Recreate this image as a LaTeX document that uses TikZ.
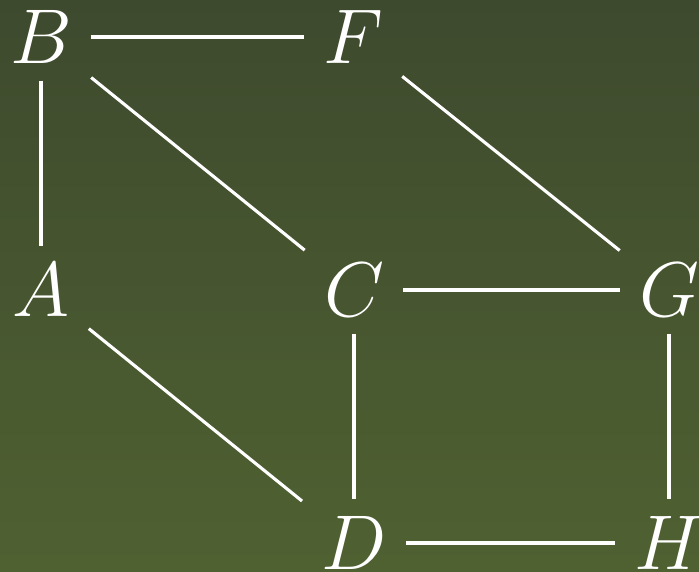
\documentclass[tikz,border=0pt]{standalone}
\usepackage{xcolor}
\usepackage{tikz}
\definecolor{bgTop}{HTML}{3E4A2E}
\definecolor{bgBottom}{HTML}{4F6131}
\tikzset{
    vertex/.style={inner xsep=6pt, inner ysep=5.3pt, text=white, font=\fontsize{24.88}{30}\selectfont},
    edge/.style={white, line width=1pt}
}
\begin{document}
\begin{tikzpicture}[x=0.3205pt, y=-0.3205pt]
    \shade[top color=bgTop, bottom color=bgBottom] (0,0) rectangle (699,571);
    \useasboundingbox (0,0) rectangle (699,571);

    \node[vertex] (B) at (41,37) {\(B\)};
    \node[vertex] (F) at (353,37) {\(F\)};
    \node[vertex] (A) at (41,290) {\(A\)};
    \node[vertex] (C) at (354,290) {\(C\)};
    \node[vertex] (G) at (669,290) {\(G\)};
    \node[vertex] (D) at (354,543) {\(D\)};
    \node[vertex] (H) at (669,543) {\(H\)};

    \draw[edge] (B) -- (F);
    \draw[edge] (B) -- (A);
    \draw[edge] (B) -- (C);
    \draw[edge] (F) -- (G);
    \draw[edge] (C) -- (G);
    \draw[edge] (A) -- (D);
    \draw[edge] (C) -- (D);
    \draw[edge] (G) -- (H);
    \draw[edge] (D) -- (H);
\end{tikzpicture}
\end{document}
